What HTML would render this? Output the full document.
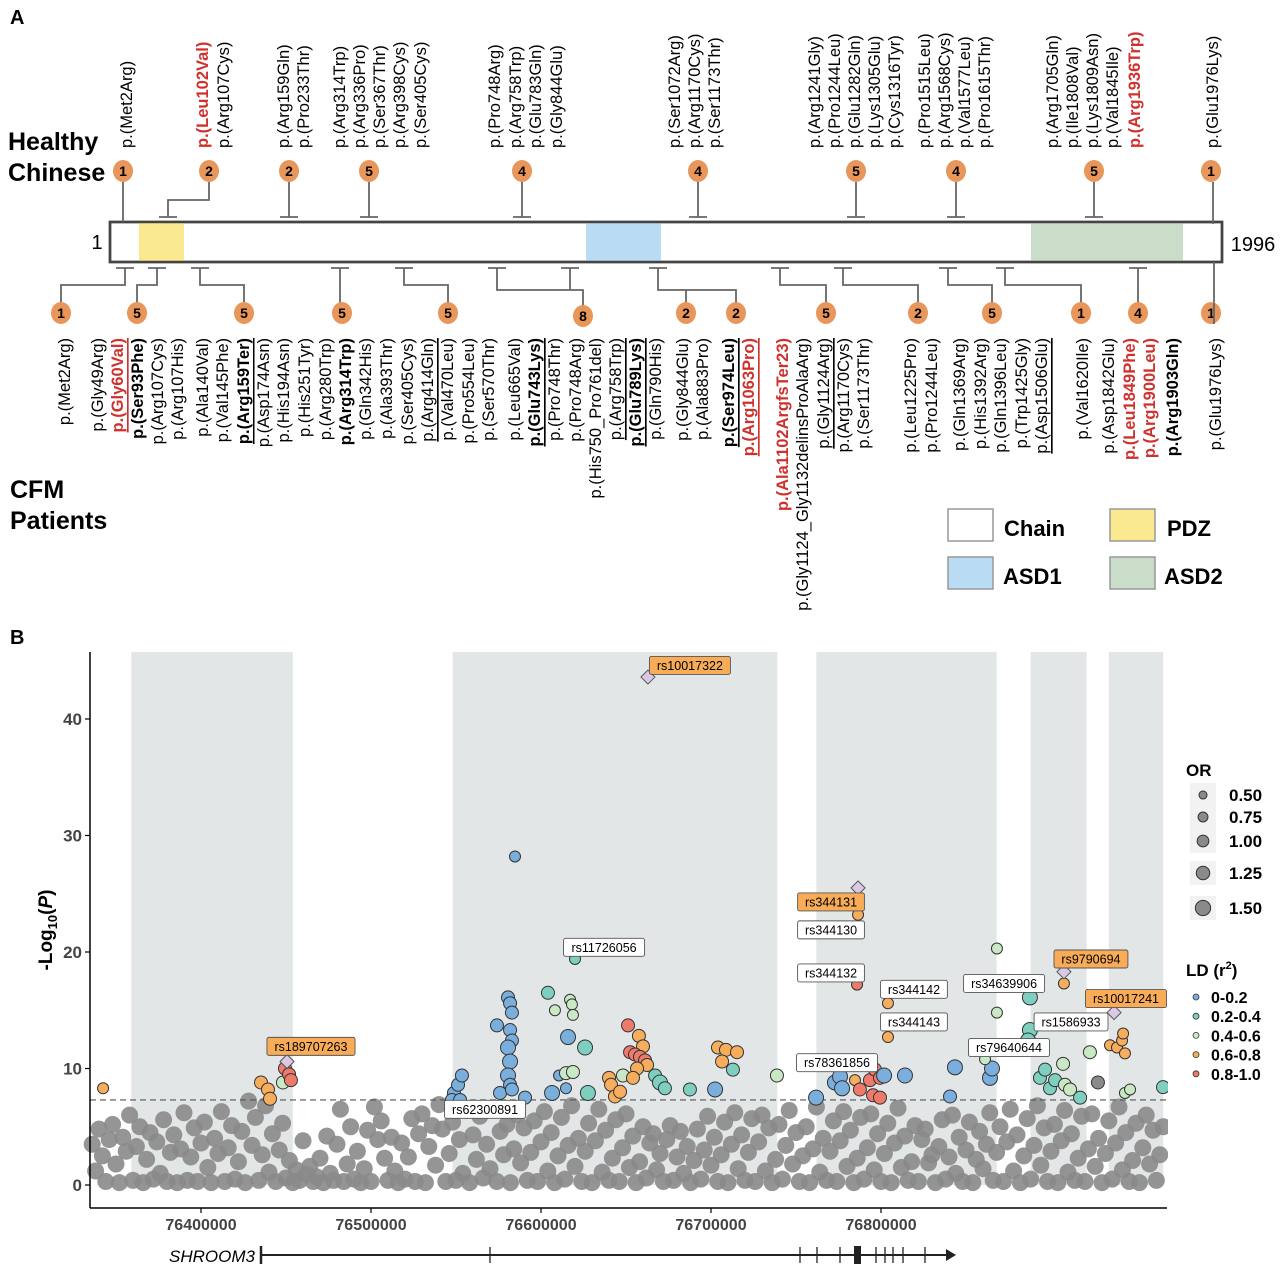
<!DOCTYPE html>
<html><head><meta charset="utf-8"><style>
body{margin:0;background:#fff}
svg{display:block;font-family:"Liberation Sans",sans-serif}
</style></head><body>
<svg id="fig" width="1280" height="1267" viewBox="0 0 1280 1267" xmlns="http://www.w3.org/2000/svg">
<g id="panelA">
<text x="10" y="24" font-size="20" font-weight="bold">A</text>
<text x="8" y="150" font-size="25" font-weight="bold">Healthy</text>
<text x="8" y="181" font-size="25" font-weight="bold">Chinese</text>
<text x="10" y="498" font-size="25" font-weight="bold">CFM</text>
<text x="10" y="529" font-size="25" font-weight="bold">Patients</text>
<rect x="110" y="222" width="1112" height="40" fill="#fff" stroke="#444" stroke-width="2.5"/>
<rect x="139" y="223" width="45" height="38" fill="#fbe98f"/>
<rect x="586" y="223" width="75" height="38" fill="#b9dcf4"/>
<rect x="1031" y="223" width="152" height="38" fill="#c9ddc9"/>
<rect x="110" y="222" width="1112" height="40" fill="none" stroke="#444" stroke-width="2.5"/>
<text x="97" y="249" font-size="20" text-anchor="middle">1</text>
<text x="1253" y="251" font-size="20" text-anchor="middle">1996</text>
<g id="stems" stroke="#666" stroke-width="1.8" fill="none"></g>
<g id="circles"></g>
<g id="labels"></g>
<g>
<rect x="948" y="509" width="45" height="32" fill="#fff" stroke="#999" stroke-width="1.5"/>
<text x="1004" y="536" font-size="22" font-weight="bold">Chain</text>
<rect x="1110" y="509" width="45" height="32" fill="#fbe98f" stroke="#999" stroke-width="1.5"/>
<text x="1167" y="536" font-size="22" font-weight="bold">PDZ</text>
<rect x="948" y="557" width="45" height="32" fill="#b9dcf4" stroke="#999" stroke-width="1.5"/>
<text x="1003" y="584" font-size="22" font-weight="bold">ASD1</text>
<rect x="1110" y="557" width="45" height="32" fill="#c9ddc9" stroke="#999" stroke-width="1.5"/>
<text x="1164" y="584" font-size="22" font-weight="bold">ASD2</text>
</g>
</g>
<g id="panelB">
<text x="10" y="644" font-size="20" font-weight="bold">B</text>
<g id="bands"></g>
<g id="gray"></g>
<line id="sigline" x1="90" x2="1167" stroke="#555" stroke-width="1.2" stroke-dasharray="6,4"/>
<g id="colored"></g>
<g id="annots"></g>
<rect x="1168" y="640" width="112" height="570" fill="#fff"/>
<line x1="90" y1="652" x2="90" y2="1208" stroke="#000" stroke-width="1.5"/>
<line x1="90" y1="1208" x2="1167" y2="1208" stroke="#000" stroke-width="1.5"/>
<g id="yticks"></g><g id="xticks"></g>
<text transform="translate(52,930) rotate(-90)" font-size="19" font-weight="bold" text-anchor="middle">-Log<tspan font-size="13" dy="5">10</tspan><tspan dy="-5">(</tspan><tspan font-style="italic">P</tspan>)</text>
<g>
<text x="255" y="1262" font-size="17" font-style="italic" text-anchor="end">SHROOM3</text>
<line x1="261" y1="1255" x2="948" y2="1255" stroke="#222" stroke-width="2"/>
<path d="M946,1249 L956,1255 L946,1261 Z" fill="#222"/>
<line x1="261" y1="1246" x2="261" y2="1264" stroke="#222" stroke-width="2.5"/>
<g stroke="#222" stroke-width="1.3"><line x1="490" y1="1247" x2="490" y2="1263"/><line x1="800" y1="1247" x2="800" y2="1263"/><line x1="817" y1="1247" x2="817" y2="1263"/><line x1="840" y1="1247" x2="840" y2="1263"/><line x1="876" y1="1247" x2="876" y2="1263"/><line x1="885" y1="1247" x2="885" y2="1263"/><line x1="893" y1="1247" x2="893" y2="1263"/><line x1="903" y1="1247" x2="903" y2="1263"/><line x1="925" y1="1247" x2="925" y2="1263"/></g>
<rect x="854" y="1246" width="7" height="18" fill="#222"/>
</g>
<g>
<text x="1186" y="776" font-size="17" font-weight="bold">OR</text>
<g id="orleg"></g>
</g>
<g>
<text x="1186" y="976" font-size="17" font-weight="bold">LD (r<tspan font-size="11" dy="-7">2</tspan><tspan dy="7">)</tspan></text>
<g id="ldleg"></g>
</g>
</g>
</svg>
<script>
const NS='http://www.w3.org/2000/svg';
function mk(tag,attrs,parent){const e=document.createElementNS(NS,tag);for(const k in attrs)e.setAttribute(k,attrs[k]);parent.appendChild(e);return e;}
const $=id=>document.getElementById(id);

// ---------- Panel A (static layout) ----------
const topCircles=[[123,'1'],[209,'2'],[289,'2'],[369,'5'],[522,'4'],[698,'4'],[856,'5'],[956,'4'],[1094,'5'],[1211,'1']];
const botCircles=[[61,'1'],[137,'5'],[244,'5'],[342,'5'],[448,'5'],[583,'8'],[686,'2'],[736,'2'],[826,'5'],[918,'2'],[992,'5'],[1081,'1'],[1138,'4'],[1211,'1']];
const stems=$('stems');
const paths=[
'M123,182V222','M209,182V200H168V217','M289,182V217','M369,182V217','M522,182V217','M698,182V217','M856,182V217','M956,182V217','M1094,182V217','M1213,182V224',
'M125,268V285H61V303','M157,268V285H137V303','M200,268V285H244V303','M340,268V303','M404,268V285H448V303',
'M497,268V290H583V306','M570,268V290','M658,268V290H736V303','M686,290V303',
'M780,268V285H826V303','M843,268V285H918V303','M948,268V285H992V303','M1005,268V285H1081V303','M1138,268V303','M1214,262V320'];
paths.forEach(d=>{const p=mk('path',{d},stems);});
const tickX=[168,289,369,522,698,856,956,1094];
tickX.forEach(x=>mk('line',{x1:x-9,x2:x+9,y1:217,y2:217},stems));
const bTicks=[125,157,200,340,404,497,570,658,780,843,948,1005,1138];
bTicks.forEach(x=>mk('line',{x1:x-9,x2:x+9,y1:268,y2:268},stems));
function circ(x,y,n){const g=mk('g',{},$('circles'));
 mk('ellipse',{cx:x,cy:y,rx:10,ry:11,fill:'#e8965a'},g);
 const t=mk('text',{x:x,y:y+5,'font-size':14,'font-weight':'bold','text-anchor':'middle'},g);t.textContent=n;}
topCircles.forEach(c=>circ(c[0],171,c[1]));
botCircles.forEach(c=>circ(c[0],c[1]==='8'?316:313,c[1]));
mk('line',{x1:1214,x2:1214,y1:303,y2:324,stroke:'#666','stroke-width':1.8},$('circles').lastChild);

const topLabels=[[127,'Met2Arg',''],[203,'Leu102Val','r'],[224,'Arg107Cys',''],[284,'Arg159Gln',''],[304,'Pro233Thr',''],[340,'Arg314Trp',''],[360,'Arg336Pro',''],[380,'Ser367Thr',''],[400,'Arg398Cys',''],[421,'Ser405Cys',''],[495,'Pro748Arg',''],[516,'Arg758Trp',''],[536,'Glu783Gln',''],[557,'Gly844Glu',''],[675,'Ser1072Arg',''],[695,'Arg1170Cys',''],[715,'Ser1173Thr',''],[815,'Arg1241Gly',''],[835,'Pro1244Leu',''],[855,'Glu1282Gln',''],[875,'Lys1305Glu',''],[895,'Cys1316Tyr',''],[925,'Pro1515Leu',''],[945,'Arg1568Cys',''],[965,'Val1577Leu',''],[985,'Pro1615Thr',''],[1053,'Arg1705Gln',''],[1073,'Ile1808Val',''],[1093,'Lys1809Asn',''],[1113,'Val1845Ile',''],[1135,'Arg1936Trp','r'],[1213,'Glu1976Lys','']];
const botLabels=[[65,'Met2Arg',''],[98,'Gly49Arg',''],[118,'Gly60Val','ru'],[138,'Ser93Phe','b'],[158,'Arg107Cys',''],[178,'Arg107His',''],[203,'Ala140Val',''],[223,'Val145Phe',''],[244,'Arg159Ter','bu'],[264,'Asp174Asn',''],[284,'His194Asn',''],[305,'His251Tyr',''],[326,'Arg280Trp',''],[346,'Arg314Trp','b'],[366,'Gln342His',''],[387,'Ala393Thr',''],[408,'Ser405Cys',''],[428,'Arg414Gln','u'],[448,'Val470Leu',''],[469,'Pro554Leu',''],[489,'Ser570Thr',''],[515,'Leu665Val',''],[535,'Glu743Lys','bu'],[555,'Pro748Thr',''],[576,'Pro748Arg',''],[596,'His750_Pro761del',''],[616,'Arg758Trp','u'],[636,'Glu789Lys','bu'],[656,'Gln790His',''],[683,'Gly844Glu',''],[703,'Ala883Pro',''],[729,'Ser974Leu','bu'],[749,'Arg1063Pro','ru'],[783,'Ala1102ArgfsTer23','r'],[803,'Gly1124_Gly1132delinsProAlaArg',''],[824,'Gly1124Arg','u'],[844,'Arg1170Cys',''],[864,'Ser1173Thr',''],[911,'Leu1225Pro',''],[932,'Pro1244Leu',''],[960,'Gln1369Arg',''],[981,'His1392Arg',''],[1001,'Gln1396Leu',''],[1022,'Trp1425Gly',''],[1042,'Asp1506Glu','u'],[1083,'Val1620Ile',''],[1109,'Asp1842Glu',''],[1130,'Leu1849Phe','r'],[1150,'Arg1900Leu','r'],[1173,'Arg1903Gln','b'],[1216,'Glu1976Lys','']];
function lab(x,y,txt,st,anchor){
 const t=mk('text',{transform:`translate(${x},${y}) rotate(-90)`,'font-size':16.5,'text-anchor':anchor,'dominant-baseline':'central'},$('labels'));
 
 
 if(st.includes('r')){t.setAttribute('fill','#d0312d');t.setAttribute('font-weight','bold');}
 if(st.includes('b'))t.setAttribute('font-weight','bold');
 if(st.includes('u'))t.setAttribute('text-decoration','underline');
 t.textContent='p.('+txt+')';}
topLabels.forEach(l=>lab(l[0],148,l[1],l[2],'start'));
botLabels.forEach(l=>lab(l[0],338,l[1],l[2],'end'));

// ---------- Panel B data (positions in kb offset from 76.0 Mb) ----------
const xTicks=[76400000,76500000,76600000,76700000,76800000];
const yTicks=[0,10,20,30,40];
const bandStart=[359,548,762,888,934];
const bandEnd=[454,739,868,921,966];
const sigThreshold=7.3;
const grayPos=[336,338,340,342,344,346,348,350,352,354,356,358,360,362,364,366,368,370,372,374,376,378,380,382,384,386,388,390,392,394,396,398,400,402,404,406,408,410,412,414,416,418,420,422,424,426,428,430,432,434,436,438,440,442,444,446,448,450,452,454,456,458,460,462,464,466,468,470,472,474,476,478,480,482,484,486,488,490,492,494,496,498,500,502,504,506,508,510,512,514,516,518,520,522,524,526,528,530,532,534,536,538,540,542,544,546,548,550,552,554,556,558,560,562,564,566,568,570,572,574,576,578,580,582,584,586,588,590,592,594,596,598,600,602,604,606,608,610,612,614,616,618,620,622,624,626,628,630,632,634,636,638,640,642,644,646,648,650,652,654,656,658,660,662,664,666,668,670,672,674,676,678,680,682,684,686,688,690,692,694,696,698,700,702,704,706,708,710,712,714,716,718,720,722,724,726,728,730,732,734,736,738,740,742,744,746,748,750,752,754,756,758,760,762,764,766,768,770,772,774,776,778,780,782,784,786,788,790,792,794,796,798,800,802,804,806,808,810,812,814,816,818,820,822,824,826,828,830,832,834,836,838,840,842,844,846,848,850,852,854,856,858,860,862,864,866,868,870,872,874,876,878,880,882,884,886,888,890,892,894,896,898,900,902,904,906,908,910,912,914,916,918,920,922,924,926,928,930,932,934,936,938,940,942,944,946,948,950,952,954,956,958,960,962,964,966];
const grayVal=[3.5,1.2,4.8,2.5,0.3,3.9,5.2,1.8,0.2,4.1,2.9,6.0,0.4,3.3,5.0,0.2,2.2,4.5,0.5,3.7,1.0,5.6,0.3,2.8,4.3,0.2,3.1,6.2,0.4,2.4,4.9,0.3,3.6,5.4,1.5,0.2,4.0,2.7,6.3,0.3,3.2,5.1,0.5,2.0,4.6,0.2,7.2,3.4,5.8,0.4,2.6,6.8,1.1,4.4,0.3,3.0,5.3,0.6,2.1,0.2,1.3,0.4,3.8,0.9,1.6,0.3,0.7,2.3,0.2,4.2,1.0,0.4,3.5,6.5,0.3,1.8,5.0,0.5,2.9,0.2,1.4,4.7,0.3,6.7,3.9,5.5,2.3,0.4,4.1,1.2,0.2,3.6,0.5,2.4,5.7,0.3,4.4,6.1,0.2,3.3,5.1,1.7,6.9,4.8,0.3,2.7,5.4,0.4,3.9,1.0,6.4,0.2,4.3,2.2,5.9,0.6,3.5,1.4,6.6,0.3,4.6,2.6,5.2,0.2,3.1,6.0,1.9,4.9,0.4,2.8,5.5,0.3,3.7,6.3,1.2,4.5,0.2,2.5,5.8,0.5,3.4,6.8,1.6,4.0,0.3,2.9,5.3,0.2,3.8,6.5,1.1,4.7,0.4,2.3,5.6,0.3,3.2,6.1,1.5,4.2,0.2,2.0,5.0,0.6,3.6,4.4,1.3,2.7,0.3,3.9,5.1,0.4,2.4,4.6,1.0,3.3,0.2,2.1,4.8,0.5,3.0,5.9,1.7,4.1,0.3,2.6,5.4,0.2,3.5,6.2,1.4,4.3,0.4,2.8,5.7,0.3,3.7,6.0,1.2,4.9,0.2,2.2,5.2,0.5,3.4,6.4,1.8,4.5,0.3,2.5,5.0,0.2,3.1,6.7,1.1,4.0,0.4,2.9,5.5,0.3,3.8,6.3,1.6,4.7,0.2,2.3,5.8,0.5,3.2,6.1,1.3,4.4,0.3,2.7,5.3,0.2,3.6,6.6,1.5,4.2,0.4,2.0,5.1,0.3,3.9,4.8,1.9,2.6,0.2,3.3,5.6,0.5,2.4,6.0,1.0,4.1,0.3,3.0,5.4,0.2,2.2,4.6,1.4,3.5,6.2,0.4,2.8,5.0,0.3,3.7,6.5,1.2,4.3,0.2,2.5,5.7,0.5,3.4,6.8,1.7,4.9,0.3,2.9,5.2,0.2,3.8,6.4,1.1,4.4,0.4,2.3,5.9,0.3,3.1,6.1,1.6,4.0,0.2,2.7,5.5,0.5,3.6,6.7,1.3,4.5,0.3,2.1,5.3,0.2,3.2,6.0,1.8,4.7,0.4,2.6,5.0];
// colored SNPs: position, -log10 P, LD class (0..4, 5=no LD), OR
const snpPos=[342.4,435.3,439.4,440.6,448.2,449.4,451.8,452.9,
548.8,551.2,553.5,547.6,552.4,574.1,575.9,580.6,581.8,582.9,581.8,582.9,580.6,581.8,580.6,581.8,582.9,584.7,590.6,
604.1,608.2,620,617.1,618.2,618.8,615.9,625.9,610.6,614.7,618.8,606.5,614.7,627.6,
640,641.2,648.2,643.5,646.5,651.2,657.6,660,652.4,655.3,658.2,661.2,662.4,656.5,654.1,
667.1,670,672.9,687.6,702.4,704.1,708.8,715.3,706.5,712.9,738.8,
761.8,772.9,775.9,777.1,784.7,786.5,785.9,787.6,793.5,796.5,799.4,795.3,799.4,801.8,804.1,804.1,814.1,
840.6,843.5,864.1,865.3,868.2,868.2,861.2,887.6,887.6,886.5,893.5,899.4,902.4,896.5,908.2,911.2,917.1,907.1,922.9,927.6,907.6,934.7,938.8,941.8,942.4,943.5,943.5,946.5,965.9];
const snpVal=[8.3,8.8,8.2,7.4,8.8,10.0,9.5,9.0,
7.9,8.6,9.4,7.3,7.3,13.7,7.9,16.1,15.6,14.8,13.3,12.4,11.8,10.6,9.4,8.6,8.2,28.2,7.5,
16.5,15.0,19.4,15.9,15.5,14.6,12.7,11.8,9.4,9.6,9.7,7.9,8.3,7.9,
9.2,8.6,9.4,7.6,8.0,13.7,12.8,11.9,11.4,11.2,11.0,10.7,10.3,10.0,9.2,
9.4,8.8,8.3,8.2,8.2,11.8,11.6,11.4,10.6,9.9,9.4,
7.5,8.8,9.3,8.3,9.0,23.2,17.2,8.2,9.0,9.9,9.2,7.7,7.5,9.4,15.6,12.7,9.4,
7.6,10.1,9.2,10.0,20.3,14.8,10.8,16.1,13.3,12.4,9.2,8.3,9.0,9.9,8.6,8.2,7.5,10.4,11.4,8.8,17.3,12.0,11.8,12.4,13.0,11.3,7.9,8.2,8.4];
const snpLD=[3,3,3,3,2,4,4,4,
0,0,0,0,0,0,0,0,0,0,0,0,0,0,0,0,0,0,0,
1,2,1,2,2,2,0,1,0,2,2,0,0,1,
3,3,2,3,3,4,3,3,4,4,4,4,3,3,3,
1,1,1,1,0,3,3,3,3,1,2,
0,0,0,0,3,3,4,4,4,4,4,4,4,0,3,3,0,
0,0,0,0,2,2,2,1,1,1,1,1,1,1,2,2,1,2,2,5,3,3,3,3,3,3,2,2,1];
const snpOR=[0.75,1.0,1.0,1.0,1.0,1.0,1.0,1.0,
1.0,1.0,1.0,1.0,1.0,1.0,1.0,1.0,1.0,1.0,1.0,1.0,1.25,1.25,1.25,1.0,1.0,0.75,1.0,
1.0,0.75,0.75,0.75,0.75,0.75,1.25,1.25,0.75,1.0,1.0,1.25,0.75,1.25,
1.0,1.0,1.0,1.0,1.0,1.0,1.0,1.0,1.0,1.0,1.0,1.0,1.0,1.0,1.0,
1.0,1.25,1.0,1.0,1.25,1.0,1.0,1.0,1.0,1.0,1.0,
1.25,1.25,1.25,1.25,0.75,0.75,0.75,1.0,1.0,1.0,1.0,1.0,1.0,1.25,0.75,0.75,1.25,
1.0,1.25,1.25,1.25,0.75,0.75,0.75,1.25,1.25,1.25,1.0,1.0,1.0,1.0,1.0,1.0,1.0,1.0,1.0,1.0,0.75,0.75,0.75,0.75,0.75,0.75,0.75,0.75,1.0];
const leadPos=[450.6,662.9,786.5,907.6,937.1];
const leadVal=[10.6,43.6,25.5,18.3,14.8];
const annText=['rs10017322','rs189707263','rs11726056','rs62300891','rs344131','rs344130','rs344132','rs344142','rs344143','rs78361856','rs34639906','rs9790694','rs10017241','rs1586933','rs79640644'];
const annPos=[687.6,464.7,637.1,567.1,770.6,770.6,770.6,819.4,819.4,774.1,872.4,923.5,944.1,911.8,875.3];
const annVal=[44.6,11.9,20.4,6.5,24.3,21.9,18.2,16.8,14.0,10.5,17.3,19.4,16.0,14.0,11.8];
const annLead=[1,1,0,0,1,0,0,0,0,0,0,1,1,0,0];
const ldColors=['#7aaedc','#7fcfc0','#c9e8c4','#f7ae5c','#ee7a6c','#8a8a8a'];
const ldNames=['0-0.2','0.2-0.4','0.4-0.6','0.6-0.8','0.8-1.0'];
const orKeys=[0.5,0.75,1.0,1.25,1.5];

const XPX=201, XSC=1.7;
const xS=kb=>XPX+(kb-400)*XSC;
const xBp=bp=>XPX+(bp-76400000)/1000*XSC;
const yS=v=>1185-v*11.65;
const rOR=o=>2.5+o*4;

for(let i=0;i<bandStart.length;i++){
 const r=mk('rect',{x:xS(bandStart[i]),y:652,width:xS(bandEnd[i])-xS(bandStart[i]),height:yS(0)-652,fill:'#e3e6e7'},$('bands'));
 
 
}
for(let i=0;i<grayPos.length;i++){
 const c=mk('circle',{cx:xS(grayPos[i]),cy:yS(grayVal[i]),r:8.5,fill:'#8a8a8a','fill-opacity':0.9},$('gray'));
 
 
}
$('sigline').setAttribute('y1',yS(sigThreshold));$('sigline').setAttribute('y2',yS(sigThreshold));
for(let i=0;i<snpPos.length;i++){
 const c=mk('circle',{cx:xS(snpPos[i]),cy:yS(snpVal[i]),r:rOR(snpOR[i]),fill:ldColors[snpLD[i]],stroke:'#333','stroke-width':1},$('colored'));
 
 
}
for(let i=0;i<leadPos.length;i++){
 const x=xS(leadPos[i]),y=yS(leadVal[i]);
 const d=mk('path',{d:`M${x},${y-7}L${x+7},${y}L${x},${y+7}L${x-7},${y}Z`,fill:'#d9c8e6',stroke:'#555','stroke-width':1},$('colored'));
 
 
}
for(let i=0;i<annText.length;i++){
 const cx=xS(annPos[i]),cy=yS(annVal[i]);
 const g=mk('g',{},$('annots'));
 
 
 const w=annText[i].length*7.1+10;
 mk('rect',{x:cx-w/2,y:cy-9,width:w,height:18,rx:2,fill:annLead[i]?'#f8ac57':'#fff',stroke:'#555','stroke-width':0.9},g);
 const t=mk('text',{x:cx,y:cy+4.5,'font-size':12.5,'text-anchor':'middle'},g);t.textContent=annText[i];
}
yTicks.forEach(v=>{
 mk('line',{x1:85,x2:90,y1:yS(v),y2:yS(v),stroke:'#000','stroke-width':1.2},$('yticks'));
 const t=mk('text',{x:82,y:yS(v)+6,'font-size':17,'font-weight':'bold','text-anchor':'end',fill:'#444'},$('yticks'));
 
 
 t.textContent=v;
});
xTicks.forEach(v=>{
 mk('line',{x1:xBp(v),x2:xBp(v),y1:1208,y2:1213,stroke:'#000','stroke-width':1.2},$('xticks'));
 const t=mk('text',{x:xBp(v),y:1230,'font-size':16,'font-weight':'bold','text-anchor':'middle',fill:'#444'},$('xticks'));
 
 
 t.textContent=v;
});
const orY=[795,817,841,873,908];
orKeys.forEach((o,i)=>{
 mk('rect',{x:1190,y:orY[i]-12,width:26,height:24,fill:'#f2f2f2'},$('orleg'));
 mk('circle',{cx:1203,cy:orY[i],r:rOR(o)*0.9,fill:'#8a8a8a',stroke:'#333','stroke-width':1},$('orleg'));
 const t=mk('text',{x:1229,y:orY[i]+6,'font-size':17,'font-weight':'bold'},$('orleg'));
 
 
 t.textContent=o.toFixed(2);
});
ldNames.forEach((n,i)=>{
 const y=997+i*19.2;
 mk('circle',{cx:1196,cy:y,r:3,fill:ldColors[i],stroke:'#333','stroke-width':0.8},$('ldleg'));
 const t=mk('text',{x:1211,y:y+6,'font-size':16,'font-weight':'bold'},$('ldleg'));
 
 
 t.textContent=n;
});
</script>
</body></html>
